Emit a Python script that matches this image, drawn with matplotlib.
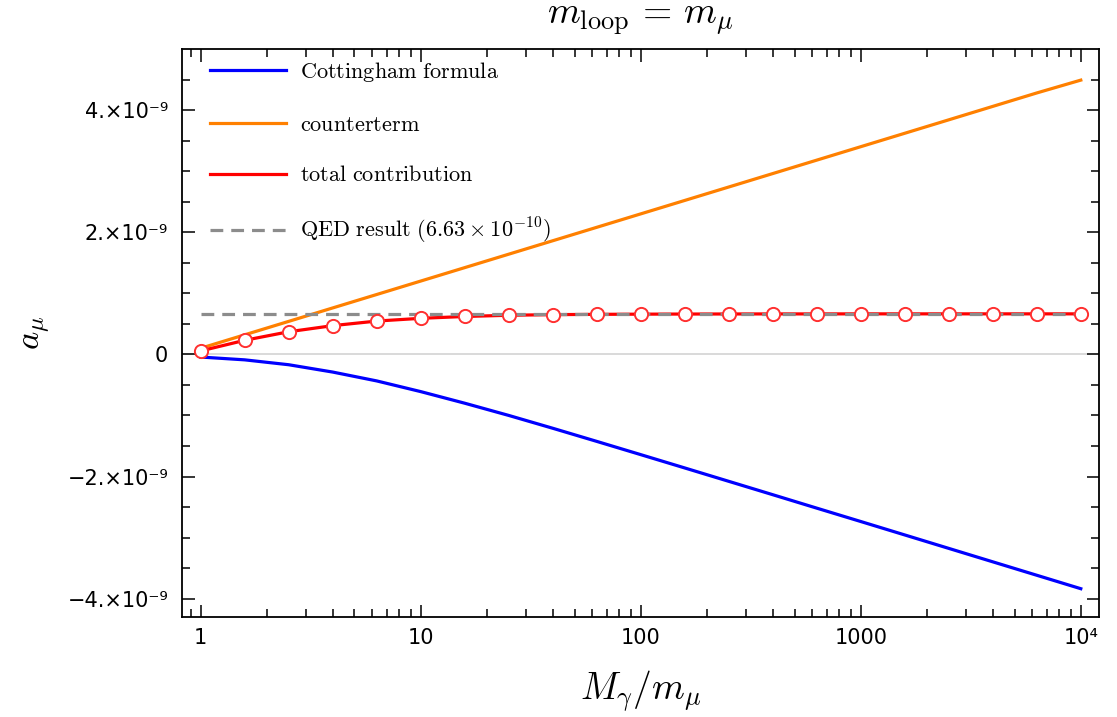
import numpy as np
import matplotlib
matplotlib.use("Agg")
import matplotlib.pyplot as plt
from matplotlib.ticker import FixedLocator, FixedFormatter

plt.rcParams['mathtext.fontset'] = 'cm'

# M_gamma / m_mu sample points (0.2 decade spacing)
x_vals = [1.0, 1.585, 2.512, 3.981, 6.310, 10.0, 15.85, 25.12, 39.81, 63.10,
          100.0, 158.5, 251.2, 398.1, 631.0, 1000.0, 1585.0, 2512.0, 3981.0,
          6310.0, 10000.0]

# values in units of 1e-9
cottingham = [-0.044, -0.09, -0.17, -0.29, -0.435, -0.61, -0.80, -1.00, -1.21,
              -1.425, -1.642, -1.86, -2.079, -2.298, -2.518, -2.737, -2.957,
              -3.177, -3.397, -3.617, -3.837]
counterterm = [0.10, 0.32, 0.54, 0.76, 0.98, 1.20, 1.42, 1.64, 1.86, 2.08,
               2.30, 2.52, 2.74, 2.96, 3.18, 3.40, 3.62, 3.84, 4.06, 4.28, 4.49]
total = [0.056, 0.23, 0.37, 0.47, 0.545, 0.59, 0.62, 0.64, 0.65, 0.655,
         0.658, 0.66, 0.661, 0.662, 0.662, 0.663, 0.663, 0.663, 0.663, 0.663,
         0.663]
qed = 0.663

labels = ['Cottingham formula', 'counterterm', 'total contribution',
          r'QED result $(6.63\times10^{-10})$']

y_ticks = [-4, -2, 0, 2, 4]
y_ticklabels = ["\u22124.\u00d710\u207b\u2079", "\u22122.\u00d710\u207b\u2079", "0",
                "2.\u00d710\u207b\u2079", "4.\u00d710\u207b\u2079"]
x_ticks = [1, 10, 100, 1000, 10000]
x_ticklabels = ["1", "10", "100", "1000", "10\u2074"]

scale = 1e-9
x = np.array(x_vals)

fig = plt.figure(figsize=(11.17, 7.17), dpi=100)
ax = fig.add_axes([0.1629, 0.1395, 0.8210, 0.7922])

ax.axhline(0, color='#d3d3d3', lw=1.2, zorder=1)
ax.plot(x, np.array(cottingham) * scale, color='#0000ff', lw=2.3, zorder=3)
ax.plot(x, np.array(counterterm) * scale, color='#ff8000', lw=2.3, zorder=3)
ax.plot(x, np.array(total) * scale, color='#ff0000', lw=2.3, zorder=4)
ax.plot([x_vals[0], x_vals[-1]], [qed * scale, qed * scale], color='#8c8c8c', lw=2.3,
        ls=(0, (4, 2.5)), zorder=5)
ax.plot(x, np.array(total) * scale, ls='none', marker='o', ms=9.5, mfc='white',
        mec='#ff3030', mew=1.4, zorder=6)

ax.set_xscale('log')
ax.set_xlim(0.822, 1.21e4)
ax.set_ylim(-4.3e-9, 5.0e-9)

ax.xaxis.set_major_locator(FixedLocator(x_ticks))
ax.xaxis.set_major_formatter(FixedFormatter(x_ticklabels))
minor_x = [m * 10 ** k for k in range(-1, 5) for m in range(2, 10)]
ax.xaxis.set_minor_locator(FixedLocator(minor_x))
ax.yaxis.set_major_locator(FixedLocator([v * scale for v in y_ticks]))
ax.yaxis.set_major_formatter(FixedFormatter(y_ticklabels))
ax.yaxis.set_minor_locator(FixedLocator([v * 0.5e-9 for v in range(-8, 10)]))

ax.tick_params(which='both', direction='in', top=True, right=True, width=1.1)
ax.tick_params(which='major', length=9, labelsize=15)
ax.tick_params(axis='x', which='major', pad=8)
ax.tick_params(axis='y', which='major', pad=10)
ax.tick_params(which='minor', length=6)
for s in ax.spines.values():
    s.set_linewidth(1.3)

ax.set_title(r'$m_{\mathrm{loop}}\,=\,m_{\mu}$', fontsize=27, pad=19)
ax.set_xlabel(r'$M_{\gamma}/m_{\mu}$', fontsize=27, labelpad=15)
ax.set_ylabel(r'$a_{\mu}$', fontsize=25, labelpad=10)

# legend, CM roman text
handles = ax.get_lines()[1:5]
leg_text = [r'$\mathrm{' + s.replace(' ', r'\ ') + '}$' if '$' not in s else
            r'$\mathrm{QED\ result}\ (6.63\times10^{-10})$' for s in labels]
leg = ax.legend(handles, leg_text, loc='upper left',
                bbox_to_anchor=(28 / 917, 1 - 11 / 568), frameon=False,
                fontsize=16, handlelength=3.4, handletextpad=0.65,
                labelspacing=1.38, borderaxespad=0, borderpad=0)

fig.savefig('out.png', dpi=100)
